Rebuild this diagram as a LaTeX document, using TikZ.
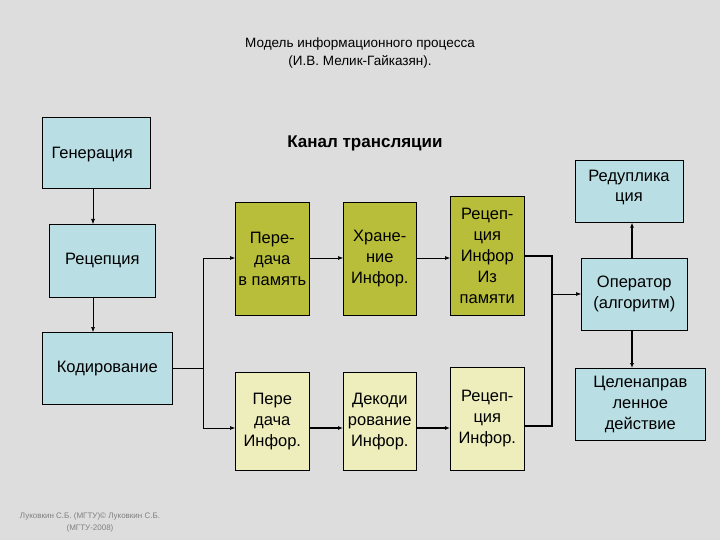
\documentclass[tikz,border=0pt]{standalone}
\usepackage{fontspec}
\setmainfont{Liberation Sans}
\usetikzlibrary{arrows.meta}
\definecolor{bg}{HTML}{DDDDDD}
\definecolor{blu}{HTML}{B9DFE5}
\definecolor{grn}{HTML}{B9BE3A}
\definecolor{lgrn}{HTML}{EEEEBD}
\tikzset{
  bx/.style={draw=black, line width=0.6pt, align=center, font=\fontsize{16.5}{21}\selectfont, inner sep=0pt},
  ar/.style={-{Latex[length=5pt,width=4pt]}, line width=0.6pt},
  ln/.style={line width=0.6pt},
  thk/.style={line width=1.5pt}
}
\begin{document}
\begin{tikzpicture}[x=1pt,y=-1pt]
\fill[bg] (0,0) rectangle (720,540);
\useasboundingbox (0,0) rectangle (720,540);
\node[align=center,font=\fontsize{13.5}{18}\selectfont] (title) at (360,53) {Модель информационного процесса\\(И.В. Мелик-Гайказян).};
\node[font=\bfseries\fontsize{17}{20}\selectfont] (kanal) at (365,143) {Канал трансляции};
\node[bx,fill=blu,minimum width=108pt,minimum height=71pt,anchor=north west] (gen) at (42,117) {};
\node[font=\fontsize{16.5}{20}\selectfont,anchor=west] at (48,155) {Генерация};
\node[bx,fill=blu,minimum width=106pt,minimum height=73pt,anchor=north west] (rec) at (49,224) {Рецепция};
\node[bx,fill=blu,minimum width=130pt,minimum height=72pt,anchor=north west] (kod) at (42,332) {Кодирование};
\node[bx,fill=grn,minimum width=74pt,minimum height=113pt,anchor=north west] (g1) at (235,202) {Пере-\\дача\\в память};
\node[bx,fill=grn,minimum width=73pt,minimum height=113pt,anchor=north west] (g2) at (343,202) {Хране-\\ние\\Инфор.};
\node[bx,fill=grn,minimum width=74pt,minimum height=119pt,anchor=north west] (g3) at (450,196) {Рецеп-\\ция\\Инфор\\Из\\памяти};
\node[bx,fill=lgrn,minimum width=74pt,minimum height=98pt,anchor=north west] (l1) at (235,372) {Пере\\дача\\Инфор.};
\node[bx,fill=lgrn,minimum width=73pt,minimum height=98pt,anchor=north west] (l2) at (343,372) {Декоди\\рование\\Инфор.};
\node[bx,fill=lgrn,minimum width=74pt,minimum height=103pt,anchor=north west] (l3) at (450,367) {Рецеп-\\ция\\Инфор.};
\node[bx,fill=blu,minimum width=108pt,minimum height=62pt,anchor=north west] (red) at (575,160) {};
\node[align=center,font=\fontsize{16.5}{20}\selectfont] at (629,187) {Редупликa\\ция};
\node[bx,fill=blu,minimum width=106pt,minimum height=72pt,anchor=north west] (op) at (581,258) {Оператор\\(алгоритм)};
\node[bx,fill=blu,minimum width=130pt,minimum height=72pt,anchor=north west] (cel) at (575,368) {Целенаправ\\ленное\\действие};
\node[text=gray,align=center,font=\fontsize{8}{12}\selectfont] (foot) at (90,522) {Луковкин С.Б. (МГТУ)© Луковкин С.Б.\\(МГТУ-2008)};
\draw[ar] (gen.south -| 93,0) -- (rec.north -| 93,0);
\draw[ar] (rec.south -| 93,0) -- (kod.north -| 93,0);
\coordinate (br) at (203,368);
\draw[ln] (kod.east |- br) -- (br);
\draw[ar] (br) -- (203,258) -- (g1.west |- 0,258);
\draw[ar] (br) -- (203,428) -- (l1.west |- 0,428);
\draw[ar] (g1.east |- 0,258) -- (g2.west |- 0,258);
\draw[ar] (g2.east |- 0,258) -- (g3.west |- 0,258);
\draw[ar,thk] (l1.east |- 0,428) -- (l2.west |- 0,428);
\draw[ar,thk] (l2.east |- 0,428) -- (l3.west |- 0,428);
\draw[thk] (g3.east |- 0,256) -- (552,256) -- (552,426) -- (l3.east |- 0,426);
\draw[ar] (552,294) -- (op.west |- 0,294);
\draw[ar,thk] (op.north -| 632,0) -- (red.south -| 632,0);
\draw[ar,thk] (op.south -| 632,0) -- (cel.north -| 632,0);
\end{tikzpicture}
\end{document}
